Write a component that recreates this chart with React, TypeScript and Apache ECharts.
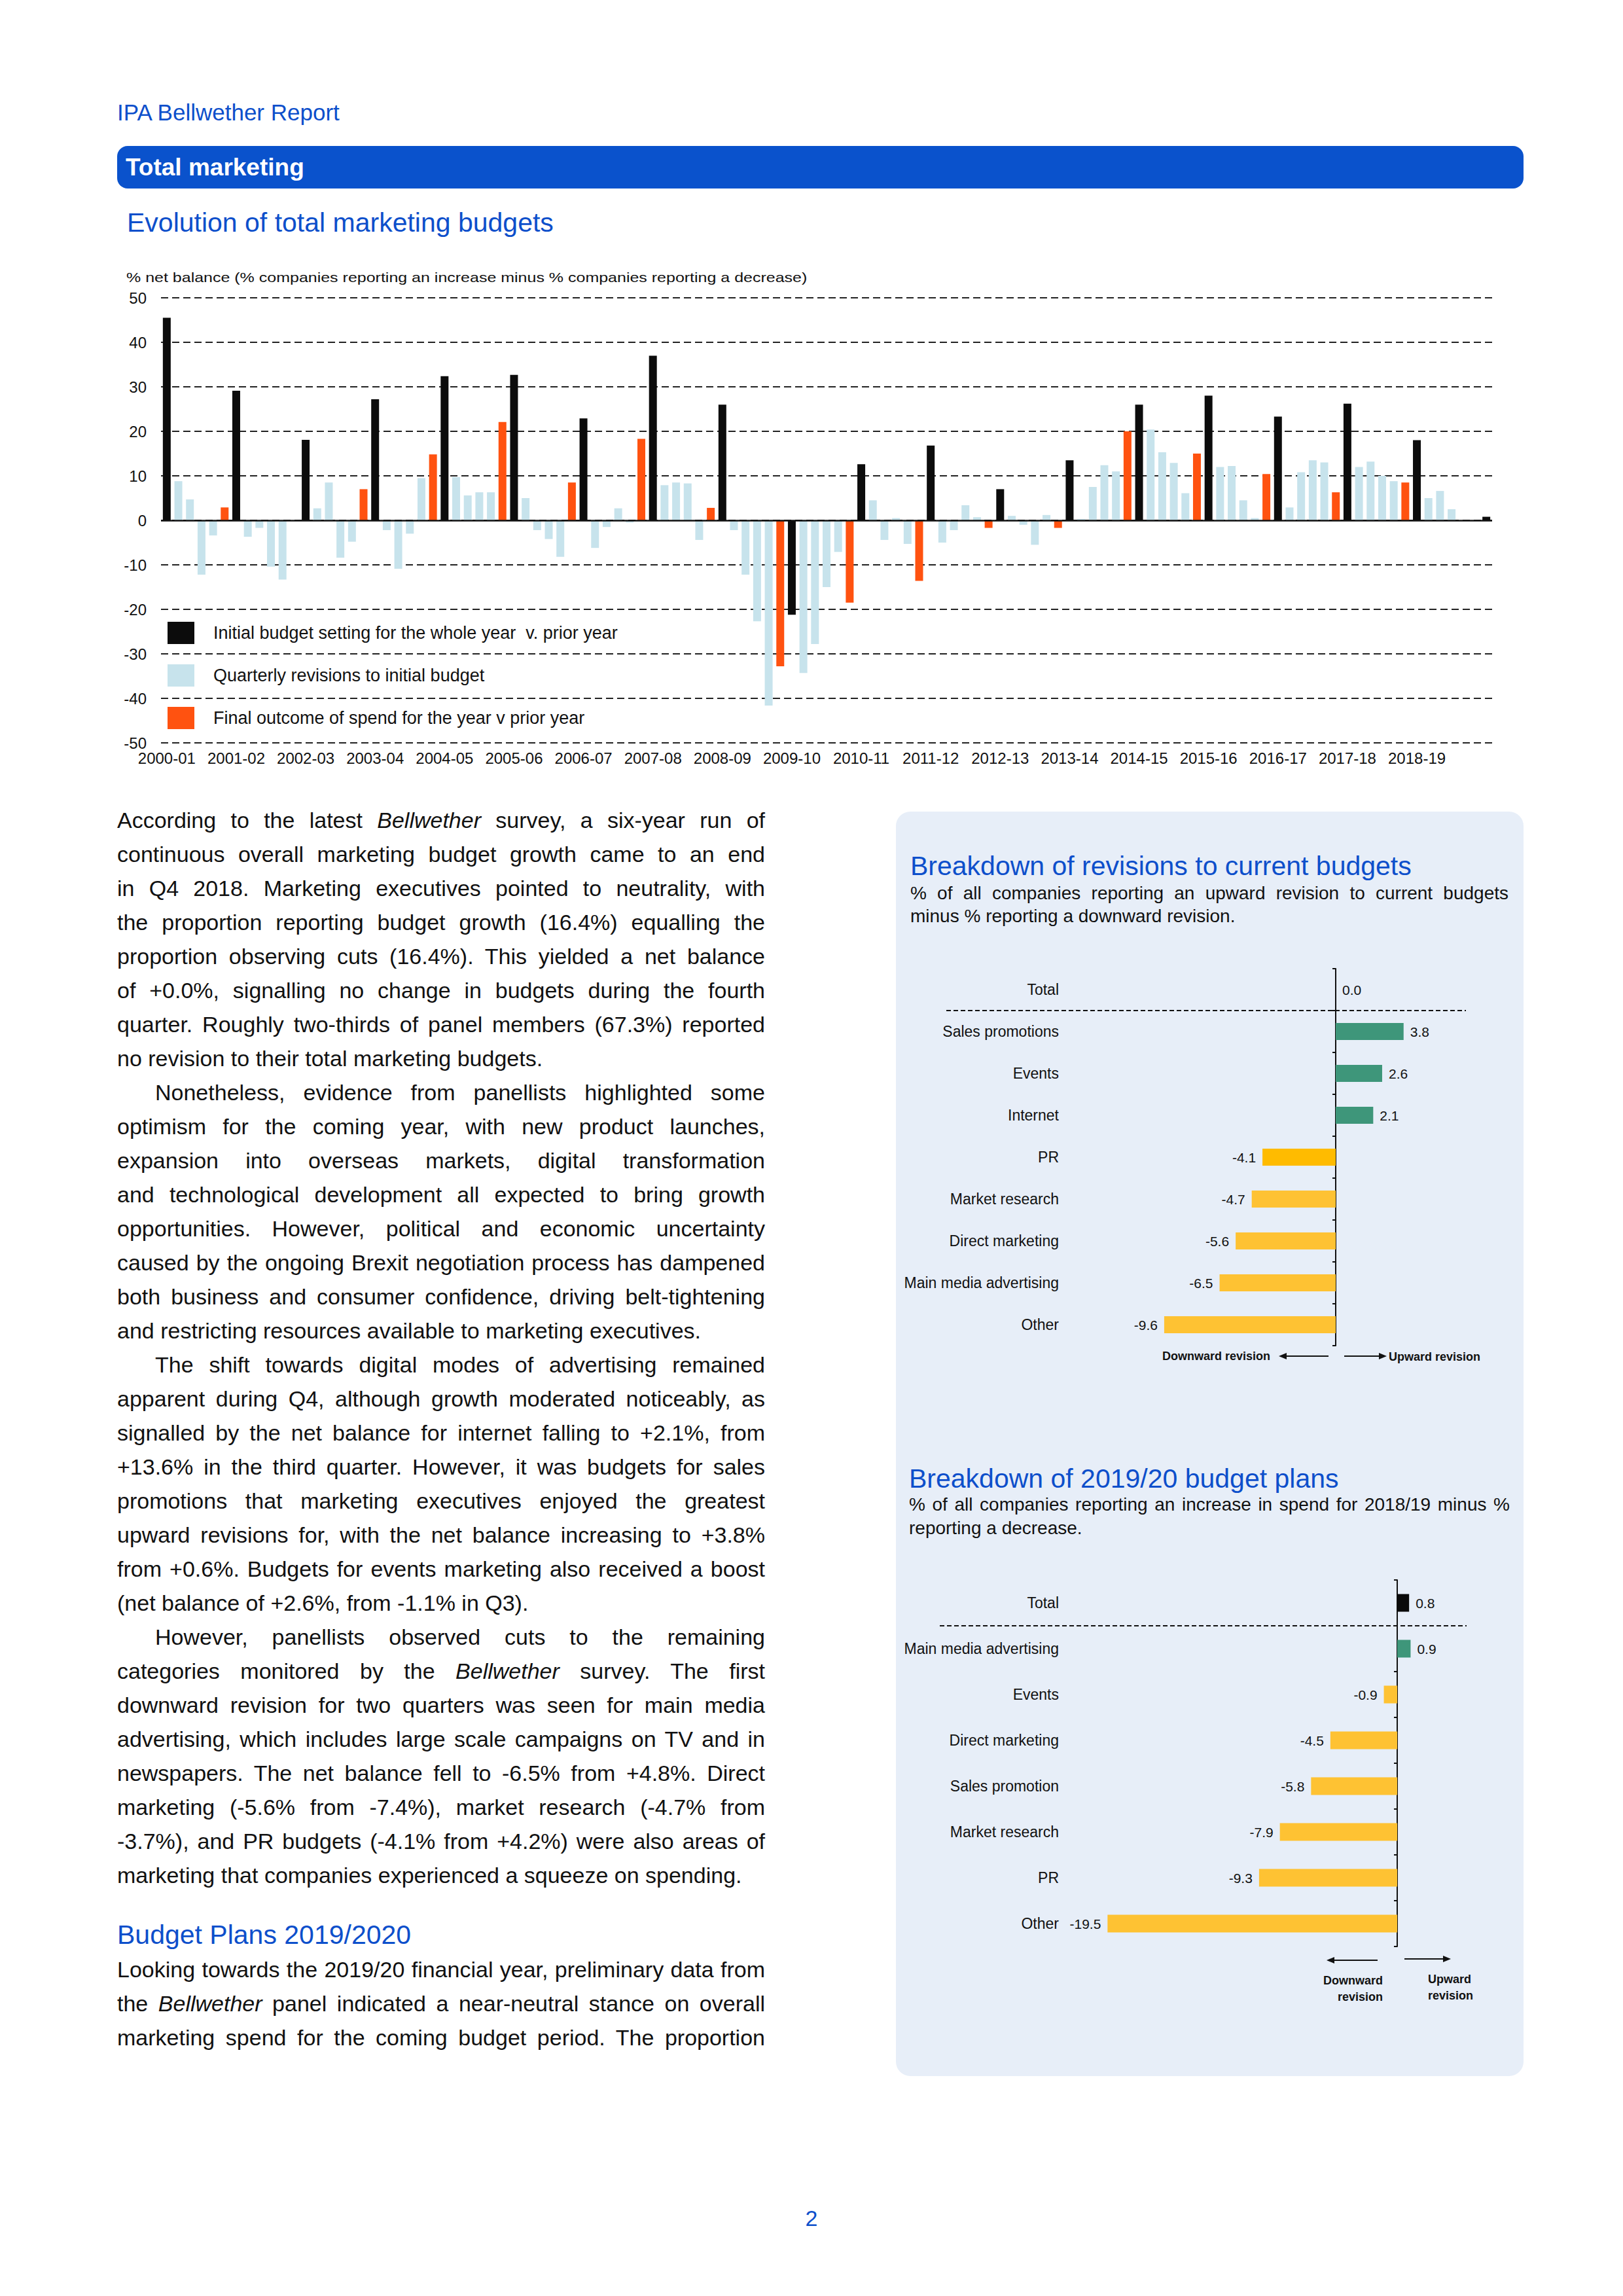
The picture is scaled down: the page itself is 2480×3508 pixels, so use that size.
import React, { useEffect, useRef } from "react";
import * as echarts from "echarts";

// ---------- DATA ----------
const yearLabels = [
  "2000-01", "2001-02", "2002-03", "2003-04", "2004-05", "2005-06", "2006-07",
  "2007-08", "2008-09", "2009-10", "2010-11", "2011-12", "2012-13", "2013-14",
  "2014-15", "2015-16", "2016-17", "2017-18", "2018-19",
];
const nextYearLabel = "2019-20";

// Initial budget setting for each year (last value = 2019-20)
const initialBudget = [
  45.5, 29.1, 18.1, 27.2, 32.4, 32.7, 22.9, 37.0, 26.0, -21.2,
  12.6, 16.8, 7.0, 13.5, 26.0, 28.0, 23.3, 26.2, 18.0, 0.8,
];

// Quarterly revisions (Q1..Q4) for each year
const quarterlyRevisions = [
  [8.8, 4.7, -12.2, -3.4],
  [-3.7, -1.7, -10.4, -13.3],
  [2.7, 8.5, -8.4, -4.8],
  [-2.2, -10.9, -3.0, 9.5],
  [9.7, 5.6, 6.3, 6.3],
  [5.0, -2.2, -4.2, -8.2],
  [-6.2, -1.5, 2.7, -0.5],
  [7.9, 8.5, 8.3, -4.4],
  [-2.2, -12.2, -22.7, -41.6],
  [-34.3, -27.8, -15.0, -7.1],
  [4.5, -4.4, 0.5, -5.3],
  [-5.0, -2.2, 3.4, 0.7],
  [1.0, -1.0, -5.5, 1.2],
  [0.3, 7.5, 12.4, 11.0],
  [20.4, 15.3, 12.9, 6.1],
  [12.0, 12.2, 4.5, 0.5],
  [2.9, 10.8, 13.5, 13.0],
  [12.0, 13.2, 10.0, 8.8],
  [5.0, 6.6, 2.5, null],
];

// Final outcome of spend for each year
const finalOutcome = [
  2.9, null, 7.0, 14.8, 22.1, 8.5, 18.3, 2.8, -32.8, -18.5,
  -13.6, -1.7, -1.7, 20.0, 15.0, 10.4, 6.3, 8.5, null,
];

const seriesNames = [
  "Initial budget setting for the whole year  v. prior year",
  "Quarterly revisions to initial budget",
  "Final outcome of spend for the year v prior year",
];

const revisionCategories = [
  "Total", "Sales promotions", "Events", "Internet", "PR",
  "Market research", "Direct marketing", "Main media advertising", "Other",
];
const revisionValues = [0.0, 3.8, 2.6, 2.1, -4.1, -4.7, -5.6, -6.5, -9.6];

const planCategories = [
  "Total", "Main media advertising", "Events", "Direct marketing",
  "Sales promotion", "Market research", "PR", "Other",
];
const planValues = [0.8, 0.9, -0.9, -4.5, -5.8, -7.9, -9.3, -19.5];

// ---------- STYLE ----------
const FONT = '"Liberation Sans", Arial, Helvetica, sans-serif';
const BLUE = "#0d4fcb";
const GREEN = "#3e967a";
const YELLOW = "#fec233";
const PR_YELLOW = "#ffbb00";

function EChart({ option, style }: { option: any; style: React.CSSProperties }) {
  const ref = useRef<HTMLDivElement>(null);
  useEffect(() => {
    const chart = echarts.init(ref.current!, null, { renderer: "svg" });
    chart.setOption(option);
    return () => chart.dispose();
  }, []);
  return <div ref={ref} style={style} />;
}

// ---------- MAIN CHART ----------
function buildMainOption() {
  const cats: string[] = [];
  const init: (number | null)[] = [];
  const quart: (number | null)[] = [];
  const fin: (number | null)[] = [];
  yearLabels.forEach((y, i) => {
    cats.push(`${y}|0`); init.push(initialBudget[i]); quart.push(null); fin.push(null);
    for (let q = 0; q < 4; q++) {
      cats.push(`${y}|${q + 1}`); init.push(null); quart.push(quarterlyRevisions[i][q]); fin.push(null);
    }
    cats.push(`${y}|5`); init.push(null); quart.push(null); fin.push(finalOutcome[i]);
  });
  cats.push(`${nextYearLabel}|0`); init.push(initialBudget[yearLabels.length]); quart.push(null); fin.push(null);
  const nLabelled = yearLabels.length * 6;

  const barBase = { type: "bar", barWidth: 12, barGap: "-100%", silent: true };
  return {
    animation: false,
    grid: { left: 76, top: 55, width: 2034, height: 680, containLabel: false, outerBoundsMode: "none" },
    legend: {
      orient: "vertical",
      left: 81,
      top: 545,
      itemWidth: 41,
      itemHeight: 34,
      itemGap: 31,
      icon: "rect",
      textStyle: { fontSize: 27, color: "#111", fontFamily: FONT, padding: [4, 0, 0, 24] },
      data: seriesNames,
    },
    xAxis: {
      type: "category",
      data: cats,
      position: "bottom",
      axisLine: { show: false, onZero: false },
      axisTick: { show: false },
      axisLabel: {
        interval: (index: number) => index % 6 === 0 && index < nLabelled,
        formatter: (v: string) => v.split("|")[0],
        fontSize: 24,
        color: "#111",
        fontFamily: FONT,
        margin: 11,
      },
    },
    yAxis: {
      type: "value",
      min: -50,
      max: 50,
      interval: 10,
      axisLine: { show: false },
      axisTick: { show: false },
      axisLabel: { fontSize: 24, color: "#111", fontFamily: FONT, margin: 22 },
      splitLine: { lineStyle: { type: [11, 6], color: "#222", width: 1.8 } },
    },
    graphic: [
      {
        type: "text",
        x: 23,
        y: 24,
        scaleX: 1.19,
        style: {
          text: "% net balance (% companies reporting an increase minus % companies reporting a decrease)",
          fill: "#111",
          fontSize: 21,
          fontFamily: FONT,
          align: "left",
          verticalAlign: "middle",
        },
      },
    ],
    series: [
      {
        ...barBase,
        name: seriesNames[0],
        data: init,
        itemStyle: { color: "#0c0c0c" },
        markLine: {
          silent: true,
          symbol: "none",
          label: { show: false },
          lineStyle: { type: "solid", color: "#111", width: 2.5 },
          data: [{ yAxis: 0 }],
        },
      },
      { ...barBase, name: seriesNames[1], data: quart, itemStyle: { color: "#c7e3ec" } },
      { ...barBase, name: seriesNames[2], data: fin, itemStyle: { color: "#ff5210" } },
    ],
  };
}

// ---------- PANEL CHARTS ----------
function arrowGraphics(x1: number, x2: number, y: number) {
  const dir = x2 > x1 ? 1 : -1;
  return [
    { type: "line", shape: { x1, y1: y, x2: x2 - dir * 8, y2: y }, style: { stroke: "#111", lineWidth: 2 } },
    {
      type: "polygon",
      shape: { points: [[x2, y], [x2 - dir * 12, y - 5], [x2 - dir * 12, y + 5]] },
      style: { fill: "#111" },
    },
  ];
}

const LABEL_RIGHT_X = 249; // right edge of category labels, in panel-chart coordinates

function panelOption(opts: {
  categories: string[];
  values: number[];
  colorOf: (name: string, v: number) => string;
  zeroX: number;
  scale: number;
  gridTop: number;
  gridHeight: number;
  min: number;
  max: number;
  barWidth: number;
  separator: { x1: number; x2: number };
  extraGraphics: any[];
}) {
  const rowH = opts.gridHeight / opts.categories.length;
  const gridLeft = opts.zeroX + opts.min * opts.scale;
  const data = opts.values.map((v, i) => ({
    value: v,
    itemStyle: { color: opts.colorOf(opts.categories[i], v) },
    label: { position: v < 0 ? "left" : "right" },
  }));
  return {
    animation: false,
    grid: {
      left: gridLeft,
      top: opts.gridTop,
      width: (opts.max - opts.min) * opts.scale,
      height: opts.gridHeight,
      containLabel: false,
      outerBoundsMode: "none",
    },
    xAxis: { type: "value", min: opts.min, max: opts.max, show: false, splitLine: { show: false } },
    yAxis: {
      type: "category",
      inverse: true,
      data: opts.categories,
      axisLine: { show: true, onZero: true, lineStyle: { color: "#111", width: 2 } },
      axisTick: { show: true, length: 5, lineStyle: { color: "#111", width: 2 } },
      axisLabel: { margin: gridLeft - LABEL_RIGHT_X, fontSize: 23, color: "#111", fontFamily: FONT },
    },
    graphic: [
      {
        type: "line",
        shape: { x1: opts.separator.x1, y1: opts.gridTop + rowH, x2: opts.separator.x2, y2: opts.gridTop + rowH },
        style: { stroke: "#111", lineWidth: 1.8, lineDash: [7, 4] },
        z: 10,
      },
      ...opts.extraGraphics,
    ],
    series: [
      {
        type: "bar",
        barWidth: opts.barWidth,
        silent: true,
        data,
        label: {
          show: true,
          distance: 10,
          fontSize: 21,
          color: "#111",
          fontFamily: FONT,
          formatter: (p: any) => Number(p.value).toFixed(1),
        },
      },
    ],
  };
}

const boldArrowText = (text: string, x: number, y: number, align: string) => ({
  type: "text",
  x,
  y,
  style: {
    text,
    fill: "#111",
    fontSize: 18,
    fontWeight: "bold",
    fontFamily: FONT,
    align,
    verticalAlign: "middle",
  },
});

function buildRevisionsOption() {
  return panelOption({
    categories: revisionCategories,
    values: revisionValues,
    colorOf: (name, v) => (v >= 0 ? GREEN : name === "PR" ? PR_YELLOW : YELLOW),
    zeroX: 672,
    scale: 27.3,
    gridTop: 30,
    gridHeight: 576,
    min: -12,
    max: 8,
    barWidth: 26,
    separator: { x1: 77, x2: 871 },
    extraGraphics: [
      boldArrowText("Downward revision", 572, 622, "right"),
      ...arrowGraphics(661, 585, 622),
      ...arrowGraphics(685, 750, 622),
      boldArrowText("Upward revision", 753, 623, "left"),
    ],
  });
}

function buildPlansOption() {
  return panelOption({
    categories: planCategories,
    values: planValues,
    colorOf: (name, v) => (name === "Total" ? "#0a0a0a" : v >= 0 ? GREEN : YELLOW),
    zeroX: 766,
    scale: 22.7,
    gridTop: 34,
    gridHeight: 560,
    min: -20,
    max: 8,
    barWidth: 27,
    separator: { x1: 67, x2: 872 },
    extraGraphics: [
      ...arrowGraphics(736, 658, 615),
      ...arrowGraphics(777, 848, 613),
      boldArrowText("Downward", 744, 646, "right"),
      boldArrowText("revision", 744, 671, "right"),
      boldArrowText("Upward", 813, 644, "left"),
      boldArrowText("revision", 813, 669, "left"),
    ],
  });
}

// ---------- TEXT ----------
type Line = { t: React.ReactNode; last?: boolean; indent?: boolean };
const B = <em>Bellwether</em>;
const bodyLines: Line[] = [
  { t: <>According to the latest {B} survey, a six-year run of</> },
  { t: "continuous overall marketing budget growth came to an end" },
  { t: "in Q4 2018. Marketing executives pointed to neutrality, with" },
  { t: "the proportion reporting budget growth (16.4%) equalling the" },
  { t: "proportion observing cuts (16.4%). This yielded a net balance" },
  { t: "of +0.0%, signalling no change in budgets during the fourth" },
  { t: "quarter. Roughly two-thirds of panel members (67.3%) reported" },
  { t: "no revision to their total marketing budgets.", last: true },
  { t: "Nonetheless, evidence from panellists highlighted some", indent: true },
  { t: "optimism for the coming year, with new product launches," },
  { t: "expansion into overseas markets, digital transformation" },
  { t: "and technological development all expected to bring growth" },
  { t: "opportunities. However, political and economic uncertainty" },
  { t: "caused by the ongoing Brexit negotiation process has dampened" },
  { t: "both business and consumer confidence, driving belt-tightening" },
  { t: "and restricting resources available to marketing executives.", last: true },
  { t: "The shift towards digital modes of advertising remained", indent: true },
  { t: "apparent during Q4, although growth moderated noticeably, as" },
  { t: "signalled by the net balance for internet falling to +2.1%, from" },
  { t: "+13.6% in the third quarter. However, it was budgets for sales" },
  { t: "promotions that marketing executives enjoyed the greatest" },
  { t: "upward revisions for, with the net balance increasing to +3.8%" },
  { t: "from +0.6%. Budgets for events marketing also received a boost" },
  { t: "(net balance of +2.6%, from -1.1% in Q3).", last: true },
  { t: "However, panellists observed cuts to the remaining", indent: true },
  { t: <>categories monitored by the {B} survey. The first</> },
  { t: "downward revision for two quarters was seen for main media" },
  { t: "advertising, which includes large scale campaigns on TV and in" },
  { t: "newspapers. The net balance fell to -6.5% from +4.8%. Direct" },
  { t: "marketing (-5.6% from -7.4%), market research (-4.7% from" },
  { t: "-3.7%), and PR budgets (-4.1% from +4.2%) were also areas of" },
  { t: "marketing that companies experienced a squeeze on spending.", last: true },
];
const plansLines: Line[] = [
  { t: "Looking towards the 2019/20 financial year, preliminary data from" },
  { t: <>the {B} panel indicated a near-neutral stance on overall</> },
  { t: "marketing spend for the coming budget period. The proportion" },
];

function TextLines({ lines, lineHeight, fontSize }: { lines: Line[]; lineHeight: number; fontSize: number }) {
  return (
    <>
      {lines.map((l, i) => (
        <div
          key={i}
          style={{
            height: lineHeight,
            lineHeight: `${lineHeight}px`,
            fontSize,
            textAlign: "justify",
            textAlignLast: l.last ? "left" : "justify",
            textIndent: l.indent ? 58 : 0,
            color: "#111",
          }}
        >
          {l.t}
        </div>
      ))}
    </>
  );
}

export default function App() {
  const abs = (s: React.CSSProperties): React.CSSProperties => ({ position: "absolute", ...s });
  return (
    <div
      style={{
        position: "absolute",
        left: 0,
        top: 0,
        width: 2480,
        height: 3508,
        background: "#fff",
        fontFamily: FONT,
        overflow: "hidden",
      }}
    >
      <div style={abs({ left: 179, top: 152, fontSize: 35, lineHeight: "40px", color: BLUE })}>
        IPA Bellwether Report
      </div>
      <div
        style={abs({
          left: 179,
          top: 223,
          width: 2149,
          height: 65,
          background: "#0a52cc",
          borderRadius: 16,
        })}
      >
        <div style={abs({ left: 13, top: 0, lineHeight: "65px", fontSize: 37, fontWeight: "bold", color: "#fff" })}>
          Total marketing
        </div>
      </div>
      <div style={abs({ left: 194, top: 316, fontSize: 41, lineHeight: "48px", color: BLUE })}>
        Evolution of total marketing budgets
      </div>

      <EChart option={buildMainOption()} style={abs({ left: 170, top: 400, width: 2140, height: 790 })} />

      {/* left text column */}
      <div style={abs({ left: 179, top: 1227, width: 990 })}>
        <TextLines lines={bodyLines} lineHeight={52} fontSize={34} />
      </div>
      <div style={abs({ left: 179, top: 2930, fontSize: 41, lineHeight: "52px", color: BLUE })}>
        Budget Plans 2019/2020
      </div>
      <div style={abs({ left: 179, top: 2983, width: 990 })}>
        <TextLines lines={plansLines} lineHeight={52} fontSize={34} />
      </div>

      {/* right panel */}
      <div
        style={abs({
          left: 1369,
          top: 1240,
          width: 959,
          height: 1932,
          background: "#e7eef8",
          borderRadius: 22,
        })}
      />
      <div style={abs({ left: 1391, top: 1299, fontSize: 41, lineHeight: "48px", color: BLUE })}>
        Breakdown of revisions to current budgets
      </div>
      <div style={abs({ left: 1391, top: 1347, width: 914 })}>
        <TextLines
          lines={[
            { t: "% of all companies reporting an upward revision to current budgets" },
            { t: "minus % reporting a downward revision.", last: true },
          ]}
          lineHeight={35}
          fontSize={28}
        />
      </div>
      <EChart option={buildRevisionsOption()} style={abs({ left: 1369, top: 1450, width: 959, height: 660 })} />

      <div style={abs({ left: 1389, top: 2235, fontSize: 41, lineHeight: "48px", color: BLUE })}>
        Breakdown of 2019/20 budget plans
      </div>
      <div style={abs({ left: 1389, top: 2281, width: 918 })}>
        <TextLines
          lines={[
            { t: "% of all companies reporting an increase in spend for 2018/19 minus %" },
            { t: "reporting a decrease.", last: true },
          ]}
          lineHeight={36}
          fontSize={28}
        />
      </div>
      <EChart option={buildPlansOption()} style={abs({ left: 1369, top: 2380, width: 959, height: 720 })} />

      <div style={abs({ left: 1140, width: 200, top: 3369, textAlign: "center", fontSize: 34, lineHeight: "40px", color: BLUE })}>
        2
      </div>
    </div>
  );
}
